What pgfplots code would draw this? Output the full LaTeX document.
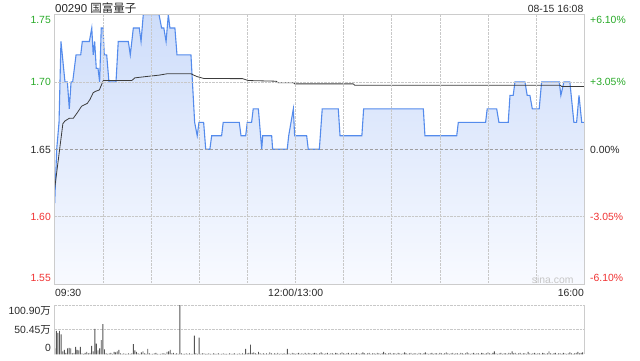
\documentclass[border=0pt]{standalone}
\usepackage{pgfplots}
\pgfplotsset{compat=1.18}
\usepackage{pgfplotstable}
\usepackage{fontspec}
\setmainfont{Liberation Sans}
\newfontfamily\cjk{Noto Sans CJK SC}
\definecolor{pline}{RGB}{84,139,236}
\definecolor{ftop}{RGB}{206,221,250}
\definecolor{fbot}{RGB}{248,250,255}
\definecolor{avgc}{RGB}{60,60,60}
\definecolor{gridc}{RGB}{200,200,200}
\definecolor{bordc}{RGB}{204,204,204}
\definecolor{upc}{RGB}{40,170,40}
\definecolor{dnc}{RGB}{240,50,50}
\definecolor{txtc}{RGB}{40,40,40}
\definecolor{volc}{RGB}{85,85,85}

\pgfplotstableread{
m p
0 1.61
1.25 1.65
2.7 1.67
3.9 1.73
6.4 1.70
7.9 1.70
9.1 1.68
10.2 1.70
11.2 1.70
13.3 1.72
16.2 1.72
17.2 1.73
21.6 1.73
23.1 1.74
24.0 1.72
24.9 1.73
25.9 1.71
27.0 1.71
28.0 1.70
29.0 1.74
30.1 1.74
30.9 1.72
32.4 1.72
33.8 1.70
38.2 1.70
39.6 1.73
45.9 1.73
47.1 1.72
49.0 1.74
52.7 1.74
53.8 1.73
55.2 1.75
65.0 1.75
66.6 1.74
68.0 1.74
69.4 1.73
70.8 1.75
71.8 1.74
74.9 1.74
76.2 1.72
84.9 1.72
87.2 1.67
88.8 1.66
89.9 1.67
92.8 1.67
94.1 1.65
96.7 1.65
97.8 1.66
104.0 1.66
105.0 1.67
115.0 1.67
116.1 1.66
119.0 1.66
120.0 1.67
122.7 1.67
123.7 1.68
126.9 1.68
129.0 1.65
129.6 1.66
135.2 1.66
135.8 1.65
144.9 1.65
145.8 1.66
148.7 1.68
149.5 1.66
157.0 1.66
158.0 1.65
164.9 1.65
166.7 1.68
176.7 1.68
177.8 1.66
191.4 1.66
192.5 1.68
229.7 1.68
230.7 1.66
250.5 1.66
251.5 1.67
268.5 1.67
269.5 1.68
275.4 1.68
276.8 1.67
282.6 1.67
283.7 1.69
285.7 1.69
286.8 1.70
293.0 1.70
294.4 1.69
296.1 1.69
297.6 1.68
301.9 1.68
303.4 1.70
314.4 1.70
315.4 1.69
317.3 1.70
321.0 1.70
323.5 1.67
325.2 1.67
326.7 1.69
328.4 1.67
330 1.67
}\price

\pgfplotstableread{
m a
0 1.621
5.1 1.669
6.4 1.671
9.1 1.673
11.6 1.673
14 1.677
16.8 1.682
20.3 1.684
22 1.687
24 1.692
25.5 1.693
27.8 1.694
30.3 1.701
48 1.701
50 1.703
57.3 1.704
65 1.705
70 1.706
84.9 1.706
88.5 1.704
93 1.7025
117 1.7024
120.6 1.701
138 1.7005
139 1.6994
148.7 1.6994
149.7 1.6985
186 1.6985
187 1.6975
315 1.6975
316 1.6965
330 1.6965
}\avg

\pgfplotstableread[row sep=\\]{
m v\\
0 12\\ 1 48\\ 2 44\\ 3 48\\ 4 41\\ 5 6\\ 6 9\\ 7 3\\ 8 12\\ 9 13\\
10 12\\ 11 2\\ 12 3\\ 13 15\\ 14 9\\ 15 8\\ 16 15\\ 17 2\\ 18 1\\ 19 3\\
20 5\\ 21 2\\ 22 3\\ 23 17\\ 24 6\\ 25 52\\ 26 22\\ 27 8\\ 28 12\\ 29 29\\
30 62\\ 31 10\\ 32 2\\ 33 1\\ 34 2\\ 35 3\\ 36 1\\ 37 5\\ 38 4\\ 39 6\\
40 9\\ 41 2\\ 42 1\\ 43 2\\ 44 1\\ 45 1\\ 46 2\\ 47 1\\ 48 2\\ 49 21\\
50 8\\ 51 5\\ 52 2\\ 53 1\\ 54 4\\ 55 6\\ 56 2\\ 57 1\\ 58 11\\ 59 2\\
60 1\\ 61 1\\ 62 2\\ 63 3\\ 64 1\\ 65 1\\ 66 1\\ 67 2\\ 68 2\\ 69 1\\
70 5\\ 71 6\\ 72 9\\ 73 2\\ 74 3\\ 75 1\\ 76 2\\ 77 1\\ 78 100.9\\ 79 2\\
80 1\\ 81 1\\ 82 2\\ 83 1\\ 84 2\\ 85 1\\ 86 1\\ 87 38\\ 88 2\\ 89 1\\
90 34\\ 91 1\\ 92 2\\ 93 2\\ 94 1\\ 95 1\\ 96 2\\ 97 1\\ 98 1\\ 99 2\\
100 1\\ 101 1\\ 102 2\\ 103 1\\ 104 1\\ 105 2\\ 106 1\\ 107 1\\ 108 1\\ 109 2\\
110 1\\ 111 1\\ 112 2\\ 113 1\\ 114 1\\ 115 2\\ 116 1\\ 117 2\\ 118 1\\ 119 11\\
120 2\\ 121 3\\ 122 20\\ 123 3\\ 124 4\\ 125 2\\ 126 1\\ 127 5\\ 128 2\\ 129 1\\
130 2\\ 131 1\\ 132 2\\ 133 1\\ 134 4\\ 135 2\\ 136 1\\ 137 2\\ 138 1\\ 139 3\\
140 1\\ 141 2\\ 142 1\\ 143 2\\ 144 1\\ 145 11\\ 146 2\\ 147 1\\ 148 3\\ 149 2\\
150 1\\ 151 2\\ 152 3\\ 153 1\\ 154 2\\ 155 1\\ 156 3\\ 157 1\\ 158 3\\ 159 2\\
160 1\\ 161 2\\ 162 3\\ 163 2\\ 164 1\\ 165 2\\ 166 4\\ 167 2\\ 168 1\\ 169 2\\
170 3\\ 171 1\\ 172 2\\ 173 2\\ 174 1\\ 175 3\\ 176 2\\ 177 1\\ 178 2\\ 179 4\\
180 2\\ 181 1\\ 182 2\\ 183 3\\ 184 1\\ 185 2\\ 186 2\\ 187 1\\ 188 3\\ 189 2\\
190 1\\ 191 2\\ 192 4\\ 193 2\\ 194 1\\ 195 2\\ 196 3\\ 197 1\\ 198 2\\ 199 2\\
200 1\\ 201 3\\ 202 2\\ 203 1\\ 204 2\\ 205 5\\ 206 2\\ 207 1\\ 208 2\\ 209 3\\
210 1\\ 211 2\\ 212 2\\ 213 1\\ 214 3\\ 215 2\\ 216 1\\ 217 2\\ 218 4\\ 219 2\\
220 1\\ 221 2\\ 222 3\\ 223 1\\ 224 2\\ 225 2\\ 226 1\\ 227 3\\ 228 2\\ 229 1\\
230 2\\ 231 4\\ 232 2\\ 233 1\\ 234 2\\ 235 3\\ 236 1\\ 237 2\\ 238 2\\ 239 1\\
240 3\\ 241 2\\ 242 1\\ 243 2\\ 244 4\\ 245 2\\ 246 1\\ 247 2\\ 248 3\\ 249 1\\
250 2\\ 251 2\\ 252 1\\ 253 3\\ 254 2\\ 255 1\\ 256 2\\ 257 4\\ 258 2\\ 259 1\\
260 2\\ 261 3\\ 262 1\\ 263 2\\ 264 2\\ 265 1\\ 266 3\\ 267 2\\ 268 1\\ 269 2\\
270 4\\ 271 2\\ 272 1\\ 273 3\\ 274 6\\ 275 2\\ 276 1\\ 277 2\\ 278 3\\ 279 1\\
280 2\\ 281 2\\ 282 1\\ 283 3\\ 284 2\\ 285 6\\ 286 2\\ 287 3\\ 288 1\\ 289 2\\
290 3\\ 291 1\\ 292 2\\ 293 2\\ 294 1\\ 295 5\\ 296 2\\ 297 1\\ 298 2\\ 299 3\\
300 1\\ 301 2\\ 302 2\\ 303 1\\ 304 3\\ 305 2\\ 306 1\\ 307 2\\ 308 6\\ 309 2\\
310 1\\ 311 2\\ 312 3\\ 313 1\\ 314 2\\ 315 2\\ 316 1\\ 317 3\\ 318 2\\ 319 1\\
320 2\\ 321 4\\ 322 2\\ 323 1\\ 324 2\\ 325 3\\ 326 5\\ 327 2\\ 328 3\\ 329 4\\
}\vol

\begin{document}
\fontsize{10.4}{12}\selectfont
\begin{tikzpicture}[x=1pt,y=1pt]
\path[use as bounding box] (0,0) rectangle (640,360);

\begin{axis}[
  at={(54.7pt,76pt)}, anchor=south west,
  width=529.6pt, height=269.5pt, scale only axis,
  xmin=0, xmax=330, ymin=1.55, ymax=1.75,
  xtick={30,60,...,300}, xticklabels={},
  ytick={1.60,1.70}, yticklabels={},
  extra y ticks={1.65}, extra y tick labels={},
  extra y tick style={major grid style={densely dashed, color=gray!75, line width=0.5pt}},
  grid=major,
  major grid style={densely dotted, color=gridc, line width=0.5pt},
  major tick length=0,
  axis line style={bordc, line width=0.8pt},
  axis on top,
]
\addplot[top color=ftop, bottom color=fbot, draw=none] table[x=m,y=p]{\price}
  -- (axis cs:330,1.55) -- (axis cs:0,1.55) -- cycle;
\addplot[draw=pline, line width=1.1pt] table[x=m,y=p]{\price};
\addplot[draw=avgc, line width=0.8pt] table[x=m,y=a]{\avg};
\end{axis}

\begin{axis}[
  at={(54.7pt,5.7pt)}, anchor=south west,
  width=529.6pt, height=49.3pt, scale only axis,
  xmin=0, xmax=330, ymin=0, ymax=100.9,
  xtick=\empty,
  ytick={50.45,100.9}, yticklabels={},
  ymajorgrids,
  major grid style={densely dotted, color=gridc, line width=0.6pt},
  major tick length=0,
  axis line style={draw=none},
]
\addplot[ybar, bar width=0.9pt, fill=volc, draw=none] table[x=m,y=v]{\vol};
\end{axis}
\draw[bordc, line width=0.8pt] (54.7,5.7) -- (54.7,55);
\draw[bordc, line width=0.8pt] (584.3,5.7) -- (584.3,55);

% title and date
\node[anchor=base west, inner sep=0, text=txtc, font=\fontsize{11.5}{13}\selectfont] at (55,348) {00290 {\cjk 国富量子}};
\node[anchor=base east, inner sep=0, text=txtc] at (583.5,348) {08-15 16:08};

% left price labels
\node[anchor=east, inner sep=0, text=upc] at (51,340) {1.75};
\node[anchor=east, inner sep=0, text=upc] at (51,278) {1.70};
\node[anchor=east, inner sep=0, text=txtc] at (51,210.4) {1.65};
\node[anchor=east, inner sep=0, text=dnc] at (51,143.3) {1.60};
\node[anchor=east, inner sep=0, text=dnc] at (51,81.7) {1.55};
% right percent labels
\node[anchor=west, inner sep=0, text=upc] at (590,340) {+6.10\%};
\node[anchor=west, inner sep=0, text=upc] at (590,278) {+3.05\%};
\node[anchor=west, inner sep=0, text=txtc] at (590,210.4) {0.00\%};
\node[anchor=west, inner sep=0, text=dnc] at (590,143.3) {-3.05\%};
\node[anchor=west, inner sep=0, text=dnc] at (590,81.7) {-6.10\%};
% time labels
\node[anchor=base west, inner sep=0, text=txtc] at (55,63.3) {09:30};
\node[anchor=base, inner sep=0, text=txtc] at (295.7,63.3) {12:00/13:00};
\node[anchor=base east, inner sep=0, text=txtc] at (584,63.3) {16:00};
% volume labels
\node[anchor=east, inner sep=0, text=txtc] at (51,49.5) {100.90{\cjk 万}};
\node[anchor=east, inner sep=0, text=txtc] at (51,30.3) {50.45{\cjk 万}};
\node[anchor=east, inner sep=0, text=txtc] at (51,12) {0};
% watermark
\node[anchor=base west, inner sep=0, text=gray!45] at (531.7,77) {sina.com};
\end{tikzpicture}
\end{document}
